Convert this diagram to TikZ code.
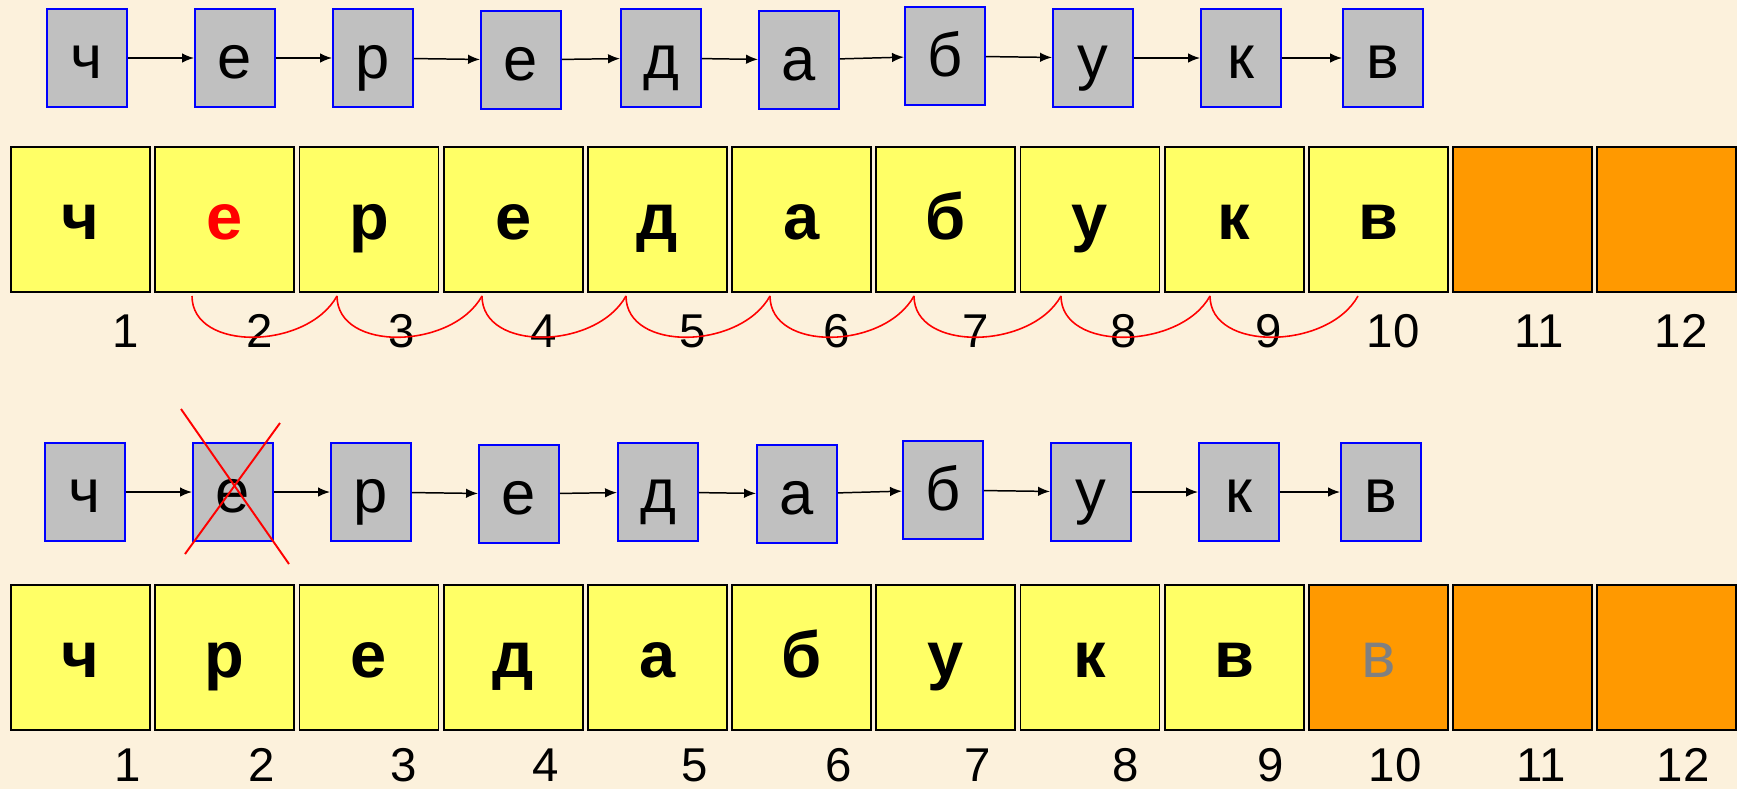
\documentclass[tikz,border=0pt]{standalone}
\usepackage{fontspec}
\setmainfont{Liberation Sans}
\usepackage{xcolor}
\usetikzlibrary{arrows.meta,positioning}

\definecolor{paper}{RGB}{252,241,220}
\definecolor{boxgray}{RGB}{192,192,192}
\definecolor{boxblue}{RGB}{0,0,255}
\definecolor{cellyellow}{RGB}{255,255,102}
\definecolor{cellorange}{RGB}{255,153,0}
\definecolor{ghost}{RGB}{128,128,128}

\begin{document}
\begin{tikzpicture}[
    x=0.02cm, y=-0.02cm,
    >={Latex[length=0.24cm,width=0.19cm]},
    chip/.style={draw=boxblue, fill=boxgray, line width=1.1pt,
                 minimum width=1.6cm, minimum height=1.96cm, inner sep=0pt,
                 text height=0.9cm, text depth=0.1cm,
                 font=\fontsize{35}{40}\selectfont},
    slot/.style={draw=black, line width=1.1pt, minimum width=2.78cm,
                 minimum height=2.9cm, inner sep=0pt,
                 text height=0.9cm, text depth=0.1cm,
                 font=\bfseries\fontsize{37}{42}\selectfont},
    idx/.style={anchor=base, inner sep=0pt, font=\fontsize{27}{30}\selectfont},
    link/.style={->, line width=0.85pt},
    hop/.style={red, line width=0.9pt},
    strike/.style={red, line width=1.1pt},
  ]

  \useasboundingbox (0,0) rectangle (1737,789);
  \fill[paper] (0,0) rectangle (1737,789);

  % list before deletion
  \node[chip] (a1) at (87,58) {ч};
  \node[chip] (a2) at (235,58) {е};
  \node[chip] (a3) at (373,58) {р};
  \node[chip] (a4) at (521,60) {е};
  \node[chip] (a5) at (661,58) {д};
  \node[chip] (a6) at (799,60) {а};
  \node[chip] (a7) at (945,56) {б};
  \node[chip] (a8) at (1093,58) {у};
  \node[chip] (a9) at (1241,58) {к};
  \node[chip] (a10) at (1383,58) {в};

  % list after deletion
  \node[chip] (b1) at (85,492) {ч};
  \node[chip] (b2) at (233,492) {е};
  \node[chip] (b3) at (371,492) {р};
  \node[chip] (b4) at (519,494) {е};
  \node[chip] (b5) at (658,492) {д};
  \node[chip] (b6) at (797,494) {а};
  \node[chip] (b7) at (943,490) {б};
  \node[chip] (b8) at (1091,492) {у};
  \node[chip] (b9) at (1239,492) {к};
  \node[chip] (b10) at (1381,492) {в};

  \foreach \i [count=\j from 2] in {1,...,9} {
    \draw[link] (a\i) -- (a\j);
    \draw[link] (b\i) -- (b\j);
  }

  \draw[strike] ([shift={(-52,-83)}]b2.center) -- ([shift={(56,72)}]b2.center);
  \draw[strike] ([shift={(47,-69)}]b2.center) -- ([shift={(-48,62)}]b2.center);

  % arrays
  \foreach \txt/\bg/\fg [count=\i] in {ч/cellyellow/black, е/cellyellow/red,
      р/cellyellow/black, е/cellyellow/black, д/cellyellow/black,
      а/cellyellow/black, б/cellyellow/black, у/cellyellow/black,
      к/cellyellow/black, в/cellyellow/black, {}/cellorange/black,
      {}/cellorange/black}
    \node[slot, fill=\bg, text=\fg] (u\i) at ({80.6+(\i-1)*144.2},219.5) {\txt};

  \foreach \txt/\bg/\fg [count=\i] in {ч/cellyellow/black, р/cellyellow/black,
      е/cellyellow/black, д/cellyellow/black, а/cellyellow/black,
      б/cellyellow/black, у/cellyellow/black, к/cellyellow/black,
      в/cellyellow/black, \mdseries в/cellorange/ghost,
      {}/cellorange/black, {}/cellorange/black}
    \node[slot, fill=\bg, text=\fg] (v\i) at ({80.6+(\i-1)*144.2},657.5) {\txt};

  \foreach \x [count=\i] in {126,259.5,402,544,693,837,975.5,1124,1268.5,1393,1539,1681} {
    \node[idx] (p\i) at (\x,347) {\i};
    \node[idx] (q\i) at (\x+2,781) {\i};
  }

  % shifts
  \foreach \x [count=\i] in {192,337,482,626,770,914,1061,1210,1358}
    \coordinate (h\i) at (\x,296);
  \foreach \i [count=\j from 2] in {1,...,8}
    \draw[hop] (h\i) .. controls +(0,56) and +(-30,54) .. (h\j);

\end{tikzpicture}
\end{document}
